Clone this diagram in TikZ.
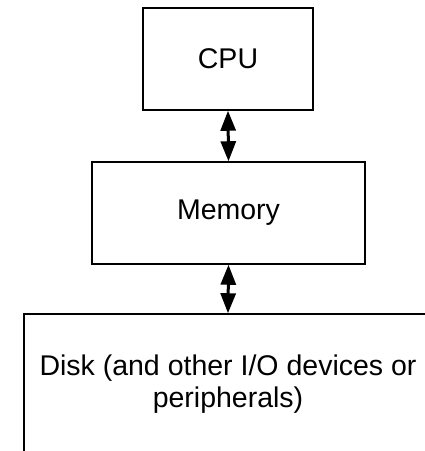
\documentclass[tikz,border=0pt]{standalone}
\usepackage{fontspec}
\setmainfont{Liberation Sans}
\usetikzlibrary{arrows.meta}
\begin{document}
\begin{tikzpicture}[x=1pt,y=-1pt,
  box/.style={draw=black,line width=1.5pt,rectangle,inner sep=0pt,align=center,
    font=\fontsize{28.5}{32.5}\selectfont},
  biarrow/.style={line width=3pt,{Triangle[length=20pt,width=15pt]}-{Triangle[length=20pt,width=15pt]}}]
\useasboundingbox (0,0) rectangle (425,451);
\clip (0,0) rectangle (425,451);
\node[box,minimum width=170pt,minimum height=102pt] (cpu) at (228,59) {CPU};
\node[box,minimum width=273pt,minimum height=102pt] (mem) at (228.5,213) {Memory};
\node[box,minimum width=408pt,minimum height=140pt] (disk) at (228,384)
  {Disk (and other I/O devices or\\peripherals)};
\draw[biarrow] (cpu.south) -- (mem.north);
\draw[biarrow] (mem.south) -- (disk.north);
\end{tikzpicture}
\end{document}
